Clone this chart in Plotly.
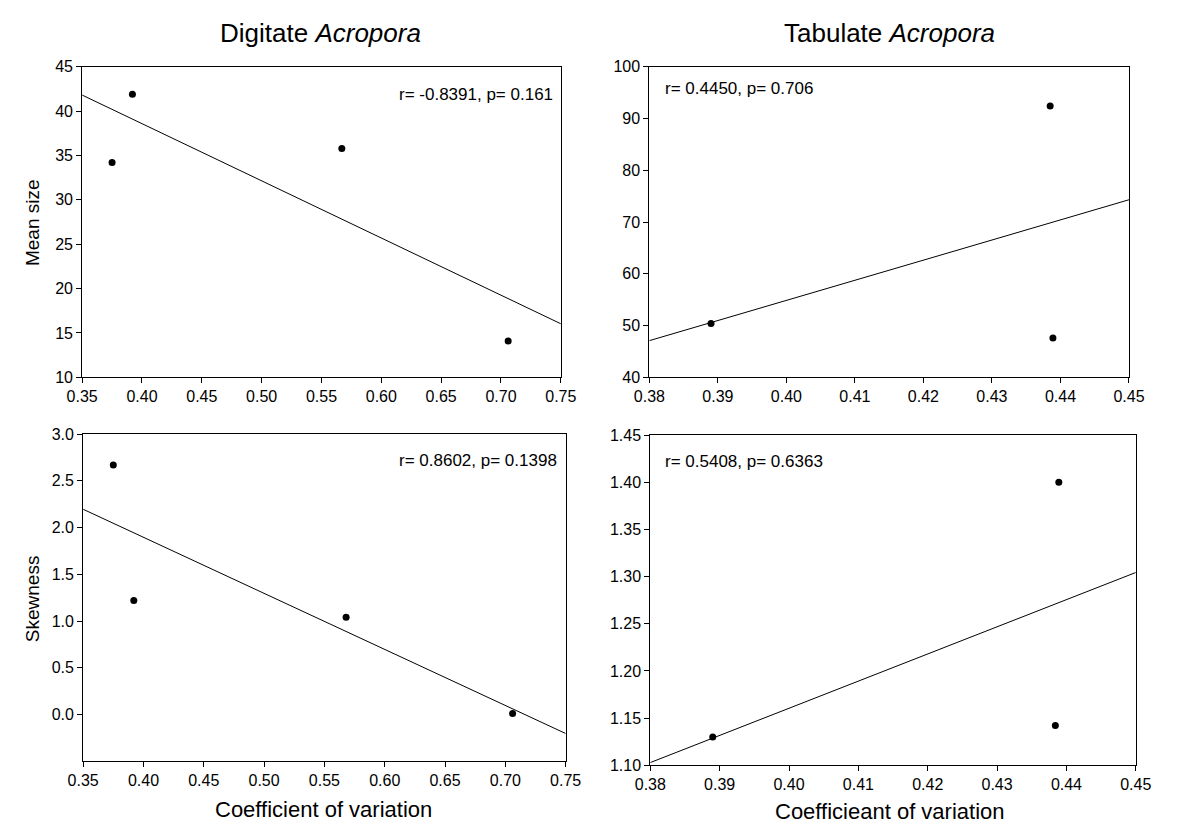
import numpy as np
import plotly.graph_objects as go

W, H = 1180, 832

# Data
dig_cv = [0.375, 0.392, 0.567, 0.706]
dig_mean = [34.2, 41.9, 35.8, 14.1]
dig_skew_cv = [0.375, 0.392, 0.568, 0.706]
dig_skew = [2.67, 1.22, 1.04, 0.01]

tab_cv = [0.389, 0.4385, 0.4389]
tab_mean = [50.4, 92.4, 47.6]
tab_skew_cv = [0.389, 0.4389, 0.4384]
tab_skew = [1.13, 1.40, 1.142]

dig_mean_ticks = [10, 15, 20, 25, 30, 35, 40, 45]
tab_mean_ticks = [40, 50, 60, 70, 80, 90, 100]
dig_skew_ticks = [0.0, 0.5, 1.0, 1.5, 2.0, 2.5, 3.0]
tab_skew_ticks = [1.10, 1.15, 1.20, 1.25, 1.30, 1.35, 1.40, 1.45]
dig_x_ticks = [0.35, 0.40, 0.45, 0.50, 0.55, 0.60, 0.65, 0.70, 0.75]
tab_x_ticks = [0.38, 0.39, 0.40, 0.41, 0.42, 0.43, 0.44, 0.45]

stats_text = ["r= -0.8391, p= 0.161", "r= 0.4450, p= 0.706",
              "r= 0.8602, p= 0.1398", "r= 0.5408, p= 0.6363"]
col_titles = ["Digitate <i>Acropora</i>", "Tabulate <i>Acropora</i>"]
row_titles = ["Mean size", "Skewness"]
x_titles = ["Coefficient of variation", "Coefficieant of variation"]


def px_x(v):
    return v / W


def px_y(v):
    return 1 - v / H


FONT = "Liberation Sans, Arial, sans-serif"

# panel boxes in pixels: (left, right, top, bottom)
panels = [
    dict(box=(68, 560, 60, 377), xr=[0.35, 0.75], yr=[10, 45],
         xt=dig_x_ticks, yt=dig_mean_ticks, x=dig_cv, y=dig_mean, yfmt="d"),
    dict(box=(651, 1144, 60, 377), xr=[0.38, 0.45], yr=[40, 100],
         xt=tab_x_ticks, yt=tab_mean_ticks, x=tab_cv, y=tab_mean, yfmt="d"),
    dict(box=(69, 565, 435, 769), xr=[0.35, 0.75], yr=[-0.5, 3.0],
         xt=dig_x_ticks, yt=dig_skew_ticks, x=dig_skew_cv, y=dig_skew, yfmt=".1f"),
    dict(box=(652, 1151, 436, 773), xr=[0.38, 0.45], yr=[1.10, 1.45],
         xt=tab_x_ticks, yt=tab_skew_ticks, x=tab_skew_cv, y=tab_skew, yfmt=".2f"),
]

fig = go.Figure()
layout = dict(
    width=W, height=H, margin=dict(l=0, r=0, t=0, b=0),
    paper_bgcolor="white", plot_bgcolor="white", showlegend=False,
    font=dict(family=FONT, color="black", size=16),
)

for i, p in enumerate(panels):
    n = i + 1
    xa = "x" if n == 1 else f"x{n}"
    ya = "y" if n == 1 else f"y{n}"
    l, r, t, b = p["box"]
    axcommon = dict(showline=True, linecolor="black", linewidth=1, mirror=True,
                    ticks="outside", ticklen=5, tickcolor="black", tickwidth=1,
                    showgrid=False, zeroline=False,
                    tickfont=dict(family=FONT, size=16, color="black"))
    layout["xaxis" if n == 1 else f"xaxis{n}"] = dict(
        domain=[px_x(l), px_x(r)], range=p["xr"], anchor=ya,
        tickvals=p["xt"], tickformat=".2f", **axcommon)
    layout["yaxis" if n == 1 else f"yaxis{n}"] = dict(
        domain=[px_y(b), px_y(t)], range=p["yr"], anchor=xa,
        tickvals=p["yt"], tickformat=p["yfmt"], **axcommon)

    # regression line
    slope, inter = np.polyfit(p["x"], p["y"], 1)
    lx = np.array(p["xr"])
    fig.add_trace(go.Scatter(x=lx, y=slope * lx + inter, mode="lines",
                             line=dict(color="black", width=1),
                             xaxis=xa, yaxis=ya, hoverinfo="skip"))
    fig.add_trace(go.Scatter(x=p["x"], y=p["y"], mode="markers",
                             marker=dict(color="black", size=7),
                             xaxis=xa, yaxis=ya))

fig.update_layout(**layout)

ann = []
# column titles
for txt, cx in zip(col_titles, [313, 898]):
    ann.append(dict(text=txt, x=px_x(cx), y=px_y(26), xref="paper", yref="paper",
                    showarrow=False, font=dict(size=26, family=FONT),
                    xanchor="center", yanchor="middle"))
# row titles
for txt, cy in zip(row_titles, [219, 603]):
    ann.append(dict(text=txt, x=px_x(17), y=px_y(cy), xref="paper", yref="paper",
                    showarrow=False, textangle=-90, font=dict(size=19, family=FONT),
                    xanchor="center", yanchor="middle"))
# x titles
for txt, cx, cy in zip(x_titles, [316, 898], [818, 820]):
    ann.append(dict(text=txt, x=px_x(cx), y=px_y(cy), xref="paper", yref="paper",
                    showarrow=False, font=dict(size=22, family=FONT),
                    xanchor="center", yanchor="middle"))
# stats
stat_pos = [(554, 88, "right"), (665, 82, "left"), (558, 462, "right"), (665, 463, "left")]
for txt, (sx, sy, anc) in zip(stats_text, stat_pos):
    ann.append(dict(text=txt, x=px_x(sx), y=px_y(sy), xref="paper", yref="paper",
                    showarrow=False, font=dict(size=17, family=FONT),
                    xanchor=anc, yanchor="middle"))

fig.update_layout(annotations=ann)
fig.write_html("out.html")
